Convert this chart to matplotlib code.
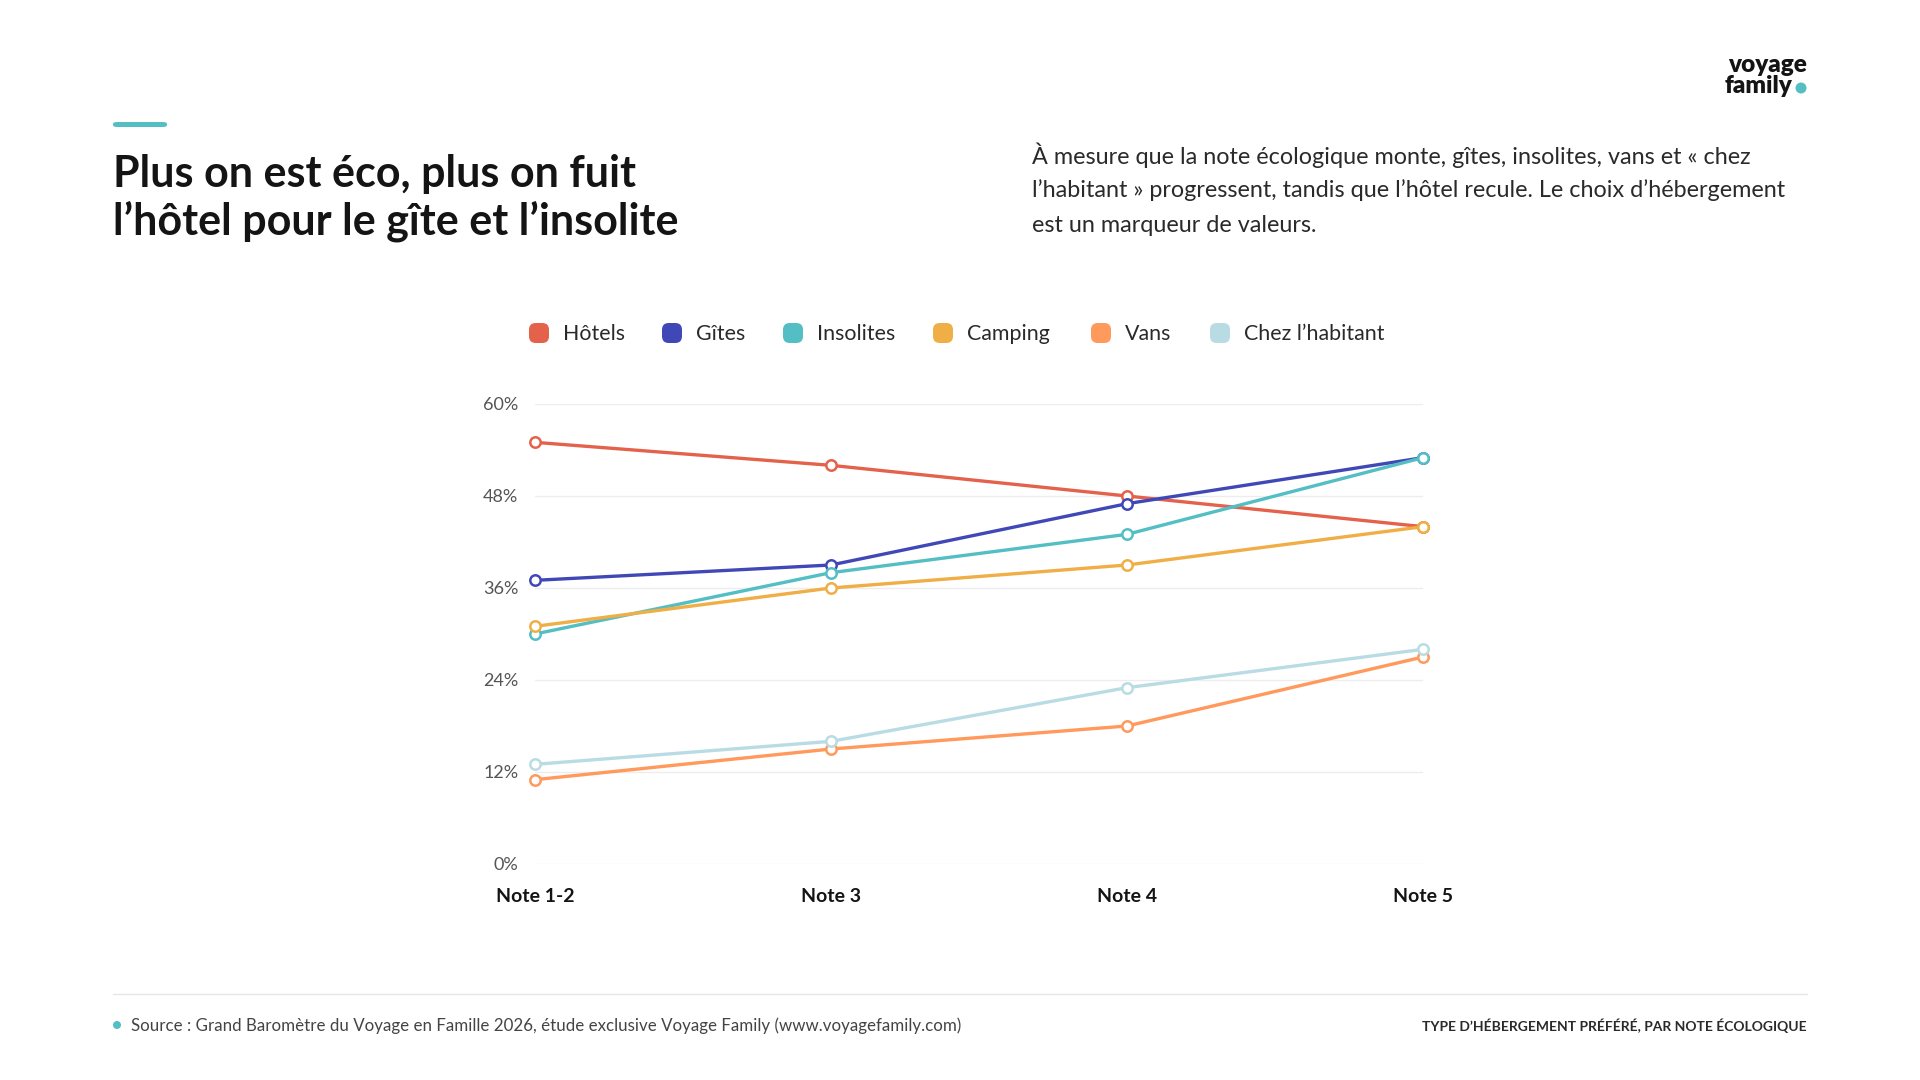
import matplotlib
matplotlib.use('Agg')
import matplotlib.pyplot as plt
from matplotlib.patches import FancyBboxPatch, Ellipse
from matplotlib.lines import Line2D

plt.rcParams['font.family'] = ['Lato', 'DejaVu Sans']

# -- DATA --
notes = ['Note 1-2', 'Note 3', 'Note 4', 'Note 5']
hotels = [55, 52, 48, 44]
gites = [37, 39, 47, 53]
insolites = [30, 38, 43, 53]
camping = [31, 36, 39, 44]
vans = [11, 15, 18, 27]
chez_habitant = [13, 16, 23, 28]
yticks = [0, 12, 24, 36, 48, 60]

series = [
    ('Hôtels', hotels, '#E4624B'),
    ('Gîtes', gites, '#4048B7'),
    ('Insolites', insolites, '#53BEC3'),
    ('Camping', camping, '#F0AE46'),
    ('Vans', vans, '#FF995C'),
    ("Chez l\u2019habitant", chez_habitant, '#B9DCE4'),
]

TEAL = '#53BEC3'
DARK = '#141414'
GREY = '#555555'
W, H = 1920, 1080


def dot(px, py, d, color):
    # round dot in pixel coords on the figure
    fig.add_artist(Ellipse((px / W, 1 - py / H), d / W, d / H,
                           transform=fig.transFigure, color=color, lw=0))


fig = plt.figure(figsize=(19.2, 10.8), dpi=100)
fig.patch.set_facecolor('white')

# -- HEADER --
fig.add_artist(FancyBboxPatch((113 / W, 1 - 127 / H), 54 / W, 5 / H,
                              boxstyle='round,pad=0,rounding_size=0.002',
                              transform=fig.transFigure, color=TEAL, lw=0))
fig.text(113 / W, 1 - 174 / H, 'Plus on est éco, plus on fuit',
         fontsize=31, fontweight='bold', color=DARK, va='center', ha='left')
fig.text(113 / W, 1 - 221 / H, "l\u2019hôtel pour le gîte et l\u2019insolite",
         fontsize=31, fontweight='bold', color=DARK, va='center', ha='left')

sub_lines = [
    'À mesure que la note écologique monte, gîtes, insolites, vans et « chez',
    "l\u2019habitant » progressent, tandis que l\u2019hôtel recule. Le choix d\u2019hébergement",
    'est un marqueur de valeurs.',
]
for i, line in enumerate(sub_lines):
    fig.text(1032 / W, 1 - (155 + i * 35) / H, line, fontsize=16.8,
             color='#2A2A2A', va='center', ha='left')

# logo
fig.text(1807 / W, 1 - 65 / H, 'voyage', fontsize=17.5, fontweight='heavy',
         color=DARK, ha='right', va='center')
fig.text(1792 / W, 1 - 86 / H, 'family', fontsize=17.5, fontweight='heavy',
         color=DARK, ha='right', va='center')
dot(1801, 88, 11, TEAL)

# -- CHART --
ax = fig.add_axes([535 / W, 1 - 864 / H, 888 / W, 460 / H])
x = list(range(len(notes)))
for name, vals, col in series:
    ax.plot(x, vals, color=col, lw=2.4, marker='o', markersize=7.5,
            markerfacecolor='white', markeredgecolor=col, markeredgewidth=1.8,
            clip_on=False, zorder=3, solid_capstyle='round')

ax.set_xlim(0, 3)
ax.set_ylim(0, 60)
ax.set_yticks(yticks)
ax.set_yticklabels([f'{v}%' for v in yticks])
ax.set_xticks(x)
ax.set_xticklabels(notes)
for s in ax.spines.values():
    s.set_visible(False)
ax.grid(axis='y', color='#EDEDED', lw=1)
ax.grid(axis='x', visible=False)
ax.set_axisbelow(True)
ax.tick_params(axis='both', length=0)
ax.tick_params(axis='y', labelsize=13, labelcolor=GREY, pad=12)
ax.tick_params(axis='x', labelsize=14, labelcolor=DARK, pad=17)
for lab in ax.get_xticklabels():
    lab.set_fontweight('bold')

# legend
leg_x = [539, 672, 793, 943, 1101, 1220]
for (name, vals, col), lx in zip(series, leg_x):
    fig.add_artist(FancyBboxPatch(((lx - 10) / W, 1 - 343 / H), 20 / W, 20 / H,
                                  boxstyle='round,pad=0,rounding_size=0.0035',
                                  transform=fig.transFigure, color=col, lw=0,
                                  mutation_aspect=W / H))
    fig.text((lx + 24) / W, 1 - 334 / H, name, fontsize=15.4, color='#2A2A2A',
             ha='left', va='center')

# -- FOOTER --
fig.add_artist(Line2D([113 / W, 1807 / W], [1 - 994 / H, 1 - 994 / H],
                      transform=fig.transFigure, color='#E6E6E6', lw=1))
dot(117, 1025, 8, TEAL)
fig.text(131 / W, 1 - 1026 / H,
         'Source : Grand Baromètre du Voyage en Famille 2026, étude exclusive Voyage Family (www.voyagefamily.com)',
         fontsize=12.2, color='#444444', ha='left', va='center')
fig.text(1807 / W, 1 - 1026 / H, 'TYPE D\u2019HÉBERGEMENT PRÉFÉRÉ, PAR NOTE ÉCOLOGIQUE',
         fontsize=10, fontweight='bold', color='#2A2A2A', ha='right', va='center')

fig.savefig('out.png', dpi=100, facecolor='white')
